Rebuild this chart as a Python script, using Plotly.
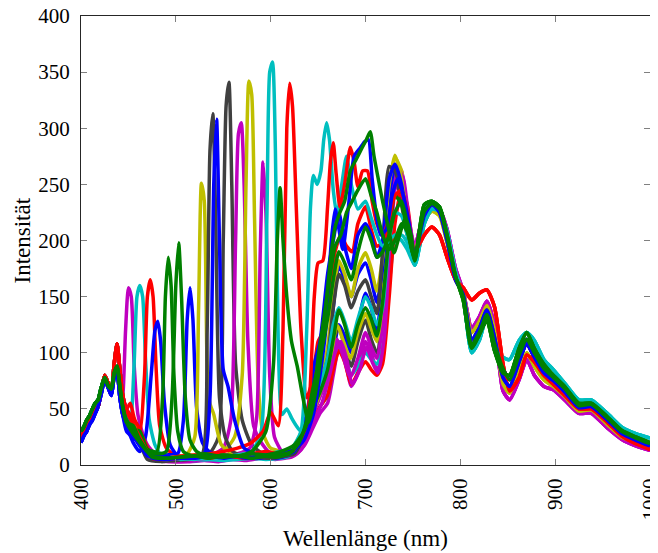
import plotly.graph_objects as go

# old MATLAB colour order
BLUE = "#0000ff"
GREEN = "#008000"
RED = "#ff0000"
CYAN = "#00bfbf"
MAGENTA = "#bf00bf"
YELLOW = "#bfbf00"
GREY = "#404040"

# blue end of the spectra (nearly the same for every measurement)
left_wl = [400, 403, 406, 409, 412, 415, 418, 421, 425, 429, 432, 435, 438, 441, 444]
left_a = [24, 30, 33, 40, 42, 50, 52, 65, 80, 72, 66, 90, 108, 85, 62]
left_b = [30, 34, 40, 44, 50, 55, 58, 68, 78, 70, 68, 82, 88, 70, 52]
left_c = [20, 26, 30, 36, 40, 46, 52, 62, 76, 68, 62, 78, 82, 60, 45]

# red / NIR end of the spectra, layers of the band
tail_wl = [752, 762, 770, 778, 786, 795, 803, 812, 820, 828, 836, 845, 852,
           862, 870, 878, 888, 898, 910, 925, 938, 955, 970, 985, 1000]
tail_1 = [190, 205, 212, 205, 185, 165, 158, 147, 153, 156, 141, 90, 66,
          78, 98, 92, 80, 72, 62, 50, 50, 38, 26, 19, 14]
tail_2 = [178, 215, 228, 226, 208, 172, 150, 100, 111, 133, 104, 96, 94,
          111, 118, 111, 94, 85, 73, 58, 58, 46, 34, 28, 24]
tail_3 = [182, 232, 235, 230, 205, 168, 147, 104, 116, 129, 102, 82, 80,
          104, 118, 104, 90, 80, 70, 55, 55, 43, 31, 25, 20]
tail_4 = [195, 225, 230, 228, 210, 175, 155, 122, 132, 146, 124, 66, 58,
          76, 94, 80, 70, 67, 58, 46, 46, 33, 23, 17, 13]
tail_5 = [186, 222, 232, 225, 200, 165, 152, 112, 122, 138, 114, 78, 70,
          92, 108, 96, 82, 75, 65, 51, 52, 40, 28, 22, 17]
tail_6 = [192, 218, 226, 222, 198, 170, 154, 118, 128, 142, 120, 72, 64,
          84, 100, 88, 76, 70, 61, 48, 49, 36, 25, 20, 15]
tail_7 = [184, 226, 233, 228, 204, 168, 150, 108, 118, 134, 108, 86, 76,
          98, 112, 100, 86, 78, 68, 53, 54, 42, 30, 24, 19]

# middle part of every single measurement
s01_wl = [447, 450, 453, 456, 460, 465, 470, 480, 490, 500, 515, 530, 545, 560, 575, 590, 605, 615, 622,
          628, 636, 644, 652, 660, 666, 672, 678, 685, 692, 700, 706, 712, 718, 725, 731, 738, 744]
s01_int = [120, 158, 150, 90, 45, 28, 18, 8, 4, 3, 3, 4, 3, 5, 4, 6, 5, 6, 7,
           10, 18, 32, 46, 55, 80, 105, 95, 70, 82, 110, 100, 85, 95, 170, 245, 260, 225]

s02_wl = [448, 452, 456, 459, 462, 465, 468, 472, 478, 485, 495, 505, 520, 535, 550, 565, 580, 595, 610,
          620, 628, 636, 644, 652, 660, 666, 672, 678, 685, 692, 700, 706, 712, 718, 725, 731, 738, 744]
s02_int = [45, 40, 90, 150, 160, 150, 95, 40, 18, 8, 6, 5, 4, 5, 4, 5, 6, 5, 6,
           8, 12, 22, 38, 52, 62, 88, 110, 100, 80, 88, 100, 94, 90, 105, 160, 200, 205, 198]

s03_wl = [448, 452, 456, 462, 467, 470, 473, 476, 479, 483, 490, 500, 512, 525, 540, 555, 570, 585, 600, 612,
          622, 628, 636, 644, 652, 660, 666, 672, 678, 685, 692, 700, 706, 712, 718, 725, 731, 738, 744]
s03_int = [50, 55, 42, 30, 80, 150, 165, 150, 90, 35, 15, 8, 6, 8, 7, 9, 6, 8, 10, 8,
           10, 14, 25, 40, 52, 62, 85, 102, 92, 72, 82, 92, 85, 80, 90, 150, 215, 245, 232]

s04_wl = [448, 455, 462, 468, 474, 478, 481, 484, 488, 494, 502, 515, 530, 545, 560, 575, 590, 605, 620,
          628, 636, 644, 652, 660, 666, 672, 678, 685, 692, 700, 706, 712, 718, 725, 731, 738, 744]
s04_int = [35, 20, 12, 25, 80, 120, 128, 110, 55, 18, 8, 6, 7, 6, 8, 6, 7, 6, 9,
           15, 30, 48, 62, 78, 100, 125, 115, 100, 125, 153, 140, 120, 165, 235, 262, 242, 215]

s05_wl = [448, 455, 462, 470, 480, 486, 489, 492, 495, 498, 502, 508, 518, 530, 545, 560, 575, 590, 605,
          620, 628, 636, 644, 652, 660, 666, 672, 678, 685, 692, 700, 706, 712, 718, 725, 731, 738, 744]
s05_int = [40, 32, 30, 14, 12, 60, 150, 185, 160, 80, 30, 12, 8, 10, 8, 7, 9, 8, 7,
           10, 16, 30, 50, 65, 85, 112, 138, 125, 105, 125, 140, 130, 115, 145, 205, 240, 232, 210]

s06_wl = [448, 455, 462, 470, 480, 490, 496, 500, 503, 506, 510, 515, 522, 535, 550, 565, 580, 595, 610,
          622, 630, 638, 645, 652, 660, 666, 672, 678, 685, 692, 700, 706, 712, 718, 725, 731, 738, 744]
s06_int = [38, 35, 22, 12, 10, 12, 60, 160, 198, 150, 60, 22, 12, 8, 7, 8, 6, 8, 9,
           12, 20, 40, 70, 95, 130, 165, 190, 180, 165, 190, 212, 200, 185, 190, 205, 225, 235, 215]

s07_wl = [448, 458, 468, 478, 490, 502, 508, 512, 515, 518, 522, 528, 535, 545, 560, 575, 590, 605, 620,
          630, 638, 645, 652, 660, 666, 672, 678, 685, 692, 700, 706, 712, 718, 725, 731, 738, 744]
s07_int = [30, 22, 10, 8, 9, 10, 40, 130, 158, 130, 50, 20, 12, 9, 7, 8, 6, 9, 10,
           20, 38, 62, 70, 95, 140, 178, 165, 150, 170, 180, 165, 145, 175, 240, 265, 245, 215]

s08_wl = [448, 458, 470, 485, 500, 512, 520, 524, 527, 530, 533, 536, 540, 548, 560, 575, 590, 605, 620,
          630, 638, 645, 652, 660, 666, 672, 678, 685, 692, 700, 706, 712, 718, 725, 731, 738, 744]
s08_int = [45, 35, 10, 8, 7, 10, 25, 140, 251, 235, 90, 55, 45, 18, 10, 8, 10, 9, 12,
           25, 42, 60, 75, 105, 150, 182, 170, 150, 175, 189, 175, 155, 185, 250, 276, 255, 220]

s09_wl = [448, 458, 470, 485, 500, 515, 528, 533, 536, 539, 542, 546, 552, 560, 572, 585, 600, 615, 625,
          632, 640, 646, 652, 660, 666, 672, 678, 685, 692, 700, 706, 712, 718, 725, 731, 738, 744]
s09_int = [45, 30, 5, 3, 4, 5, 10, 120, 280, 313, 220, 60, 25, 12, 8, 7, 6, 8, 10,
           20, 40, 58, 70, 95, 140, 170, 160, 140, 155, 165, 150, 135, 190, 266, 262, 240, 210]

s10_wl = [448, 458, 470, 485, 500, 515, 530, 536, 540, 543, 546, 550, 555, 562, 572, 585, 600, 615, 625,
          632, 640, 646, 652, 660, 666, 672, 678, 685, 692, 700, 706, 712, 718, 725, 731, 738, 744]
s10_int = [35, 25, 8, 9, 6, 8, 10, 60, 250, 308, 200, 85, 70, 40, 15, 10, 8, 9, 12,
           25, 55, 90, 110, 170, 200, 225, 195, 175, 205, 215, 205, 185, 200, 255, 268, 250, 215]

s11_wl = [448, 460, 475, 490, 505, 520, 535, 545, 550, 553, 556, 559, 563, 570, 580, 592, 605, 618,
          628, 636, 644, 652, 660, 666, 672, 678, 685, 692, 700, 706, 712, 718, 725, 731, 738, 744]
s11_int = [48, 25, 6, 5, 6, 8, 10, 25, 200, 320, 341, 250, 90, 40, 18, 10, 8, 9,
           12, 25, 45, 62, 85, 110, 123, 105, 88, 110, 129, 112, 100, 140, 250, 258, 232, 205]

s12_wl = [448, 460, 475, 490, 505, 520, 535, 550, 558, 563, 566, 569, 572, 576, 582, 590, 600, 612,
          624, 632, 640, 648, 656, 664, 670, 676, 684, 692, 700, 706, 712, 718, 725, 731, 738, 744]
s12_int = [45, 28, 6, 5, 4, 5, 8, 15, 40, 200, 295, 305, 250, 110, 35, 20, 10, 8,
           10, 18, 35, 52, 70, 95, 112, 98, 78, 95, 118, 105, 95, 125, 215, 268, 262, 225]

s13_wl = [448, 460, 475, 490, 505, 520, 535, 550, 562, 570, 574, 577, 580, 583, 587, 592, 600, 612,
          624, 632, 640, 648, 656, 664, 670, 676, 684, 692, 700, 706, 712, 718, 725, 731, 738, 744]
s13_int = [38, 20, 8, 7, 8, 9, 10, 12, 25, 80, 250, 342, 330, 220, 70, 28, 15, 12,
           10, 20, 40, 55, 75, 100, 125, 112, 95, 118, 135, 122, 110, 145, 235, 274, 262, 225]

s14_wl = [448, 460, 475, 490, 505, 520, 535, 550, 565, 578, 585, 589, 592, 595, 599, 604, 612, 622,
          630, 638, 646, 654, 662, 668, 674, 680, 686, 694, 701, 707, 713, 720, 727, 733, 740, 746]
s14_int = [50, 30, 5, 3, 3, 4, 6, 8, 10, 15, 40, 190, 270, 225, 80, 25, 12, 8,
           12, 22, 40, 55, 80, 100, 110, 95, 72, 85, 105, 92, 82, 115, 220, 265, 255, 218]

s15_wl = [448, 460, 475, 490, 505, 520, 535, 550, 565, 580, 590, 596, 599, 602, 605, 608, 612, 617, 622,
          627, 632, 638, 645, 652, 660, 666, 672, 678, 685, 692, 700, 706, 712, 718, 725, 731, 738, 744]
s15_int = [42, 25, 7, 6, 5, 6, 5, 7, 9, 12, 30, 220, 350, 359, 280, 110, 45, 50, 42,
           35, 30, 40, 58, 72, 95, 125, 140, 128, 110, 130, 150, 140, 125, 140, 200, 225, 222, 205]

s16_wl = [448, 460, 475, 490, 505, 520, 535, 550, 565, 580, 595, 603, 607, 610, 613, 617, 622, 628,
          634, 640, 645, 650, 656, 662, 668, 674, 680, 686, 692, 700, 706, 712, 718, 725, 731, 738, 744]
s16_int = [38, 22, 8, 6, 7, 8, 6, 9, 8, 12, 30, 90, 200, 247, 200, 150, 110, 88,
           60, 38, 55, 95, 130, 165, 195, 205, 225, 235, 245, 255, 240, 225, 205, 192, 200, 215, 208]

s17_wl = [448, 460, 475, 490, 505, 520, 535, 550, 565, 580, 592, 600, 608, 613, 617, 620, 623, 627,
          632, 638, 644, 650, 656, 662, 668, 674, 680, 686, 692, 700, 706, 712, 718, 725, 731, 738, 744]
s17_int = [50, 35, 8, 6, 8, 9, 10, 12, 15, 20, 30, 47, 35, 120, 300, 340, 320, 230,
           120, 60, 75, 110, 120, 150, 190, 205, 195, 190, 215, 230, 210, 195, 198, 215, 240, 240, 220]

s18_wl = [448, 460, 475, 490, 505, 520, 535, 550, 565, 580, 595, 610, 622, 632, 638, 642, 645, 649,
          653, 656, 659, 662, 666, 670, 675, 680, 685, 692, 700, 706, 712, 718, 725, 731, 738, 744]
s18_int = [40, 22, 7, 5, 6, 5, 7, 6, 8, 9, 10, 12, 15, 30, 120, 230, 258, 250,
           262, 290, 305, 290, 245, 222, 250, 275, 250, 228, 235, 220, 205, 195, 200, 205, 200, 192]

s19_wl = [448, 460, 475, 490, 505, 520, 535, 550, 565, 580, 595, 610, 625, 635, 641, 646, 650, 655,
          660, 663, 666, 669, 673, 678, 684, 688, 692, 697, 702, 707, 712, 718, 725, 731, 738, 744]
s19_int = [48, 28, 6, 5, 6, 8, 6, 8, 7, 10, 12, 10, 14, 25, 60, 150, 180, 182,
           230, 270, 287, 260, 230, 250, 283, 270, 248, 262, 262, 235, 215, 205, 220, 240, 245, 225]

s20_wl = [448, 460, 475, 490, 505, 520, 535, 550, 565, 580, 595, 610, 625, 635, 645, 652, 658,
          664, 668, 672, 676, 682, 688, 694, 699, 703, 707, 711, 716, 722, 728, 734, 740, 746]
s20_int = [40, 20, 6, 5, 6, 6, 8, 6, 8, 7, 9, 10, 14, 22, 45, 80, 120,
           200, 228, 210, 192, 230, 275, 282, 288, 290, 255, 225, 205, 210, 240, 255, 240, 215]

s21_wl = [448, 460, 475, 490, 505, 520, 535, 550, 565, 580, 595, 610, 625, 635, 645, 652, 658,
          664, 668, 673, 678, 684, 690, 696, 701, 705, 709, 713, 718, 724, 730, 736, 742, 748]
s21_int = [40, 25, 7, 6, 7, 8, 7, 9, 8, 10, 9, 12, 18, 30, 55, 90, 140,
           190, 212, 225, 235, 262, 272, 282, 290, 297, 275, 257, 235, 212, 189, 205, 220, 205]

series = [
    ("s01", s01_wl, s01_int, left_a, tail_4, MAGENTA),
    ("s02", s02_wl, s02_int, left_b, tail_2, CYAN),
    ("s03", s03_wl, s03_int, left_a, tail_1, RED),
    ("s04", s04_wl, s04_int, left_c, tail_5, BLUE),
    ("s11", s11_wl, s11_int, left_a, tail_5, GREY),
    ("s12", s12_wl, s12_int, left_b, tail_4, MAGENTA),
    ("s13", s13_wl, s13_int, left_c, tail_6, YELLOW),
    ("s14", s14_wl, s14_int, left_a, tail_4, MAGENTA),
    ("s07", s07_wl, s07_int, left_c, tail_7, BLUE),
    ("s08", s08_wl, s08_int, left_a, tail_6, YELLOW),
    ("s09", s09_wl, s09_int, left_a, tail_5, GREY),
    ("s15", s15_wl, s15_int, left_b, tail_2, CYAN),
    ("s17", s17_wl, s17_int, left_a, tail_1, RED),
    ("s10", s10_wl, s10_int, left_c, tail_7, BLUE),
    ("s05", s05_wl, s05_int, left_b, tail_3, GREEN),
    ("s18", s18_wl, s18_int, left_b, tail_2, CYAN),
    ("s19", s19_wl, s19_int, left_a, tail_1, RED),
    ("s20", s20_wl, s20_int, left_c, tail_5, BLUE),
    ("s06", s06_wl, s06_int, left_b, tail_3, GREEN),
    ("s16", s16_wl, s16_int, left_b, tail_7, GREEN),
    ("s21", s21_wl, s21_int, left_b, tail_3, GREEN),
]

fig = go.Figure()
for name, wl, inten, left, tail, col in series:
    assert len(wl) == len(inten), name
    fig.add_trace(go.Scatter(
        x=left_wl + wl + tail_wl, y=left + inten + tail, mode="lines",
        line=dict(color=col, width=3.5, shape="spline", smoothing=0.6),
        showlegend=False, name=name))

font = "Liberation Serif"
axis_style = dict(
    showline=True, linecolor="#262626", linewidth=1, mirror="ticks",
    ticks="inside", ticklen=6, tickcolor="#808080", tickwidth=1,
    showgrid=False, zeroline=False, automargin=False, ticklabeloverflow="allow",
    tickfont=dict(family=font, size=21, color="black"),
)
fig.update_xaxes(range=[400, 1000], tickvals=[400, 500, 600, 700, 800, 900, 1000],
                 tickangle=-90, ticklabelstandoff=4, **axis_style)
fig.update_yaxes(range=[0, 400], tickvals=list(range(0, 401, 50)),
                 ticklabelstandoff=6, **axis_style)

fig.add_annotation(text="Wellenlänge (nm)", xref="paper", yref="paper", x=0.5, y=0,
                   yshift=-73, showarrow=False, xanchor="center", yanchor="middle",
                   font=dict(family=font, size=23, color="black"))
fig.add_annotation(text="Intensität", xref="paper", yref="paper", x=0, y=0.5,
                   xshift=-59, textangle=-90, showarrow=False, xanchor="center", yanchor="middle",
                   font=dict(family=font, size=23, color="black"))

# the page puts the plot 8 px in from the top left corner, so the figure is
# 8 px smaller and the margins are shifted to keep the axes where they belong
fig.update_layout(
    width=650, height=545,
    margin=dict(l=73, r=8, t=8, b=88),
    paper_bgcolor="white", plot_bgcolor="white",
)

fig.write_html("out.html")
